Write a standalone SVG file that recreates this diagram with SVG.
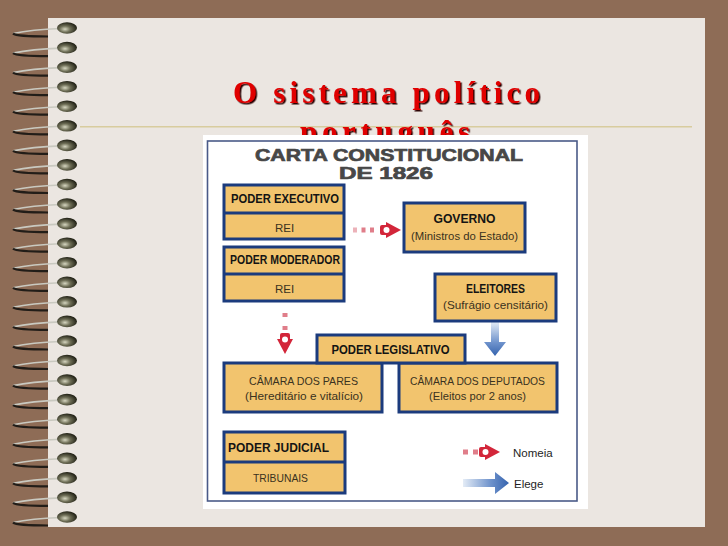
<svg xmlns="http://www.w3.org/2000/svg" width="728" height="546" viewBox="0 0 728 546">
<defs>
<filter id="shadow" x="-5%" y="-20%" width="110%" height="140%">
<feDropShadow dx="1.5" dy="1.5" stdDeviation="0.2" flood-color="#2a0000" flood-opacity="1"/>
</filter>
<radialGradient id="blobG" cx="0.4" cy="0.6" r="0.6">
<stop offset="0" stop-color="#d6d6c0"/>
<stop offset="0.45" stop-color="#6e6e56"/>
<stop offset="1" stop-color="#222216"/>
</radialGradient>
<linearGradient id="elegeV" x1="0" y1="0" x2="0" y2="1">
<stop offset="0" stop-color="#e4ecf6"/>
<stop offset="0.6" stop-color="#6f93cc"/>
<stop offset="1" stop-color="#3563ae"/>
</linearGradient>
<linearGradient id="elegeH" x1="0" y1="0" x2="1" y2="0">
<stop offset="0" stop-color="#e4ecf6"/>
<stop offset="0.6" stop-color="#6f93cc"/>
<stop offset="1" stop-color="#3563ae"/>
</linearGradient>
<g id="ring">
<path d="M60,0.5 Q32,1.5 13,5.5" fill="none" stroke="#c9c9c0" stroke-width="1.6"/>
<path d="M13,5.5 Q17,8.5 48,8.5" fill="none" stroke="#221d18" stroke-width="2.2"/>
<ellipse cx="67" cy="0" rx="10" ry="5.8" fill="url(#blobG)"/>
</g>
<g id="nh">
<rect x="-21" y="-5" width="8" height="10" rx="2" fill="#d3263a"/>
<path d="M-15,-8 L0,0 L-15,8 Z" fill="#d3263a"/>
<circle cx="-14.5" cy="0" r="3" fill="#ffffff"/>
</g>
</defs>
<style>
.box{fill:#f2c46e;stroke:#1b3b7d;stroke-width:3}
.div{stroke:#1b3b7d;stroke-width:3}
.hd{font-family:"Liberation Sans",Arial,sans-serif;font-weight:bold;font-size:12.5px;fill:#141414}
.tx{font-family:"Liberation Sans",Arial,sans-serif;font-size:11.5px;fill:#3a3220}
.ttl{font-family:"Liberation Serif","Times New Roman",serif;font-weight:bold;font-size:31px;fill:#e00000;filter:url(#shadow)}
.carta{font-family:"Liberation Sans",Arial,sans-serif;font-weight:bold;font-size:17px;fill:#474747;stroke:#474747;stroke-width:0.7}
.sq{fill:#e07e8a}
.lg{font-family:"Liberation Sans",Arial,sans-serif;font-size:11.5px;fill:#1e1e1e}
</style>
<rect x="0" y="0" width="728" height="546" fill="#8e6c56"/>
<rect x="48" y="18" width="657" height="509" fill="#ebe6e1"/>
<g id="spiral">
<use href="#ring" y="28"/><use href="#ring" y="47.6"/><use href="#ring" y="67.1"/><use href="#ring" y="86.7"/>
<use href="#ring" y="106.2"/><use href="#ring" y="125.8"/><use href="#ring" y="145.4"/><use href="#ring" y="164.9"/>
<use href="#ring" y="184.5"/><use href="#ring" y="204"/><use href="#ring" y="223.6"/><use href="#ring" y="243.2"/>
<use href="#ring" y="262.7"/><use href="#ring" y="282.3"/><use href="#ring" y="301.8"/><use href="#ring" y="321.4"/>
<use href="#ring" y="341"/><use href="#ring" y="360.5"/><use href="#ring" y="380.1"/><use href="#ring" y="399.6"/>
<use href="#ring" y="419.2"/><use href="#ring" y="438.8"/><use href="#ring" y="458.3"/><use href="#ring" y="477.9"/>
<use href="#ring" y="497.4"/><use href="#ring" y="517"/>
</g>
<line x1="80" y1="126.7" x2="692" y2="126.7" stroke="#d8cc9e" stroke-width="1.5"/>
<g id="title">
<text class="ttl" x="233" y="103" textLength="307" lengthAdjust="spacing">O sistema político</text>
<text class="ttl" x="300" y="142" textLength="170" lengthAdjust="spacing">português</text>
</g>
<rect x="203" y="135" width="385" height="374" fill="#ffffff"/>
<rect x="207.5" y="141" width="369.5" height="360" fill="none" stroke="#4a5a88" stroke-width="1.6"/>
<g id="heading">
<text class="carta" x="255" y="160.5" textLength="268" lengthAdjust="spacingAndGlyphs">CARTA CONSTITUCIONAL</text>
<text class="carta" x="339" y="178.5" textLength="94" lengthAdjust="spacingAndGlyphs">DE 1826</text>
</g>
<g id="connectors">
<g id="c-exec-gov">
<rect class="sq" x="353" y="227.5" width="4" height="5" opacity="0.6"/>
<rect class="sq" x="361.5" y="227.5" width="4" height="5"/>
<rect class="sq" x="370" y="227.5" width="4" height="5"/>
<use href="#nh" transform="translate(401,230)"/>
</g>
<g id="c-mod-pares">
<rect class="sq" x="282.5" y="313" width="5" height="4"/>
<rect class="sq" x="282.5" y="326" width="5" height="4"/>
<use href="#nh" transform="translate(285,354) rotate(90)"/>
</g>
<g id="c-eleit-dep">
<path d="M491,322 L499,322 L499,342 L506,342 L495,356 L484,342 L491,342 Z" fill="url(#elegeV)"/>
</g>
</g>
<g id="n-executivo">
<rect class="box" x="224" y="185" width="120" height="54"/>
<line class="div" x1="224" y1="213" x2="344" y2="213"/>
<text class="hd" x="231" y="202.5" textLength="108" lengthAdjust="spacingAndGlyphs">PODER EXECUTIVO</text>
<text class="tx" x="284.5" y="231.5" text-anchor="middle">REI</text>
</g>
<g id="n-moderador">
<rect class="box" x="224" y="247" width="120" height="54"/>
<line class="div" x1="224" y1="274" x2="344" y2="274"/>
<text class="hd" x="230" y="264" textLength="110" lengthAdjust="spacingAndGlyphs">PODER MODERADOR</text>
<text class="tx" x="284.5" y="292.5" text-anchor="middle">REI</text>
</g>
<g id="n-governo">
<rect class="box" x="404" y="203" width="121" height="49"/>
<text class="hd" x="464.5" y="223.3" text-anchor="middle" textLength="62" lengthAdjust="spacingAndGlyphs">GOVERNO</text>
<text class="tx" x="464.5" y="240" text-anchor="middle" textLength="107" lengthAdjust="spacingAndGlyphs">(Ministros do Estado)</text>
</g>
<g id="n-eleitores">
<rect class="box" x="435" y="274" width="121" height="47"/>
<text class="hd" x="495.5" y="292.7" text-anchor="middle" textLength="59" lengthAdjust="spacingAndGlyphs">ELEITORES</text>
<text class="tx" x="495.5" y="308.5" text-anchor="middle" textLength="105" lengthAdjust="spacingAndGlyphs">(Sufrágio censitário)</text>
</g>
<g id="n-pares">
<rect class="box" x="224" y="363" width="158" height="49"/>
<text class="tx" x="303.5" y="384.5" text-anchor="middle" textLength="109" lengthAdjust="spacingAndGlyphs">CÂMARA DOS PARES</text>
<text class="tx" x="304" y="399.5" text-anchor="middle" textLength="118" lengthAdjust="spacingAndGlyphs">(Hereditário e vitalício)</text>
</g>
<g id="n-deputados">
<rect class="box" x="399" y="363" width="158" height="49"/>
<text class="tx" x="477.5" y="384.5" text-anchor="middle" textLength="135" lengthAdjust="spacingAndGlyphs">CÂMARA DOS DEPUTADOS</text>
<text class="tx" x="477.5" y="399.5" text-anchor="middle" textLength="97" lengthAdjust="spacingAndGlyphs">(Eleitos por 2 anos)</text>
</g>
<g id="n-legislativo">
<rect class="box" x="317" y="335" width="148" height="28"/>
<text class="hd" x="390.5" y="354" text-anchor="middle" textLength="118" lengthAdjust="spacingAndGlyphs">PODER LEGISLATIVO</text>
</g>
<g id="n-judicial">
<rect class="box" x="224" y="432" width="121" height="61"/>
<line class="div" x1="224" y1="462" x2="345" y2="462"/>
<text class="hd" x="228" y="451.7" textLength="101" lengthAdjust="spacingAndGlyphs">PODER JUDICIAL</text>
<text class="tx" x="280.5" y="481.7" text-anchor="middle" textLength="55" lengthAdjust="spacingAndGlyphs">TRIBUNAIS</text>
</g>
<g id="legend">
<rect class="sq" x="463" y="449.5" width="5" height="5"/>
<rect class="sq" x="473" y="449.5" width="5" height="5"/>
<use href="#nh" transform="translate(500,452)"/>
<text class="lg" x="513" y="456.5">Nomeia</text>
<path d="M463,479 L495,479 L495,472 L509,483 L495,494 L495,487 L463,487 Z" fill="url(#elegeH)"/>
<text class="lg" x="514" y="488">Elege</text>
</g>
</svg>
